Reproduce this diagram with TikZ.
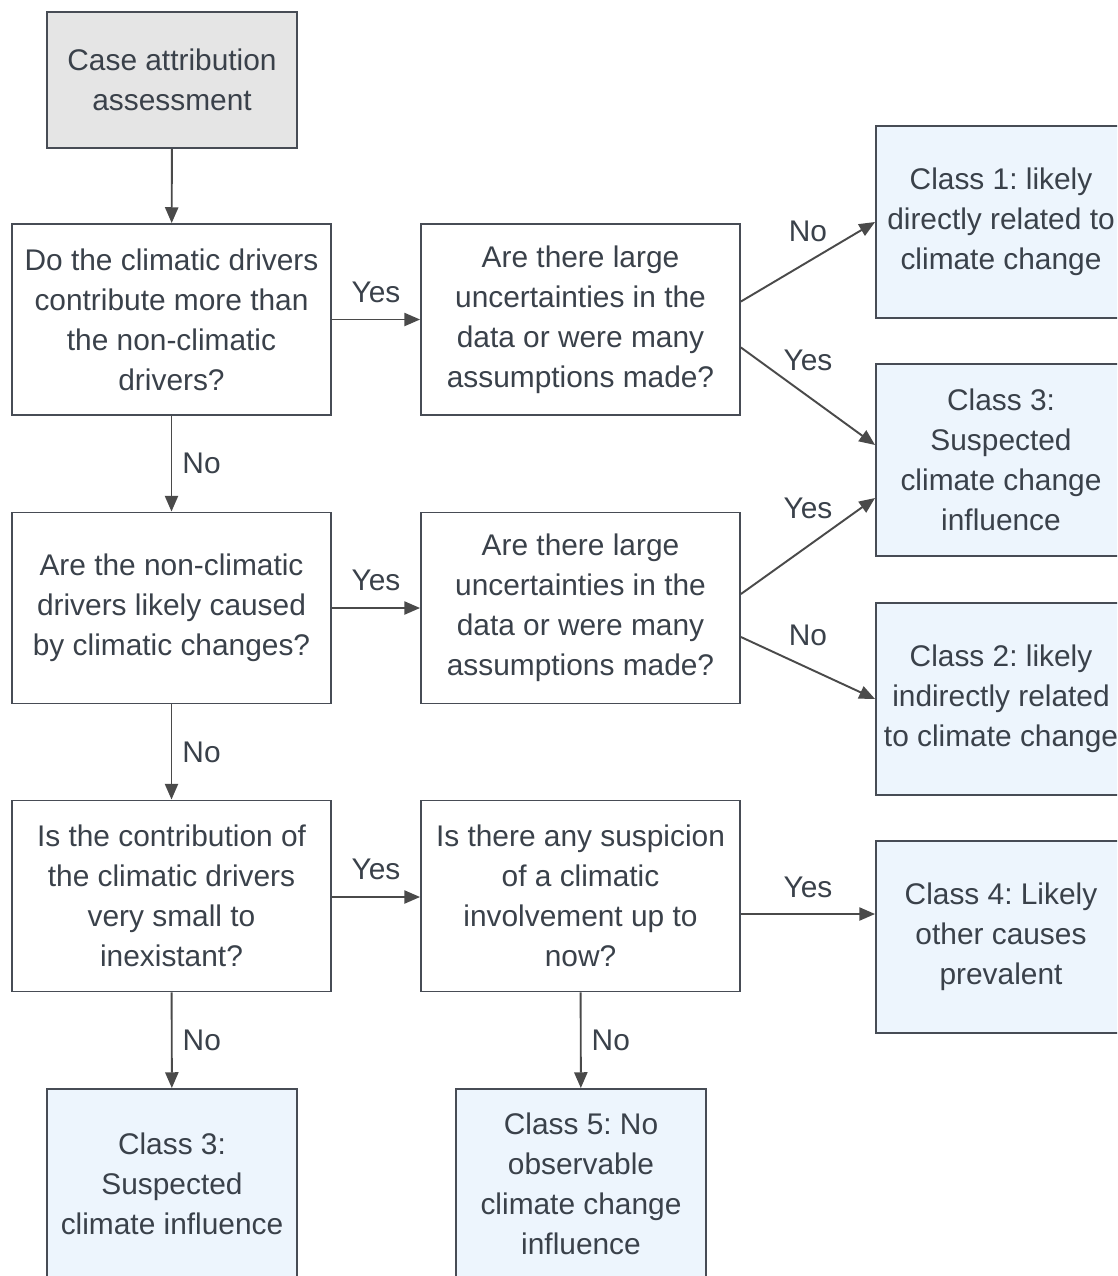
\documentclass[tikz,border=0pt]{standalone}
\usepackage{fontspec}
\setmainfont{Liberation Sans}
\usetikzlibrary{arrows.meta,calc}
\definecolor{ink}{HTML}{3A414A}
\definecolor{edge}{HTML}{474C55}
\definecolor{wire}{HTML}{4A4A4A}
\definecolor{paleblue}{HTML}{EDF5FD}
\definecolor{palegray}{HTML}{E5E5E5}
\frenchspacing

\begin{document}
\begin{tikzpicture}[x=0.02cm,y=-0.02cm,
        font=\fontsize{17}{22.8}\selectfont, text=ink,
        box/.style={draw=edge,line width=1.1pt,align=center,inner sep=0pt,
            minimum width=6.38cm,minimum height=3.82cm},
        cls/.style={box,fill=paleblue,minimum width=5cm,minimum height=3.84cm},
        arr/.style={draw=wire,line width=1.1pt,-{Triangle[length=9pt,width=7.5pt]}},
        lbl/.style={inner sep=0pt}]
        \useasboundingbox (0,0) rectangle (1117,1276);
        \clip (0,0) rectangle (1117,1276);

        \node[box,fill=palegray,minimum width=5cm,minimum height=2.72cm] (attr) at (172,80) {Case attribution\\assessment};
        \node[box] (drivers) at (171.5,319.5) {Do the climatic drivers\\contribute more than\\the non-climatic\\drivers?};
        \node[box] (unc1) at (580.5,319.5) {Are there large\\uncertainties in the\\data or were many\\assumptions made?};
        \node[cls] (class1) at (1001,222) {Class 1: likely\\directly related to\\climate change};
        \node[cls] (class3a) at (1001,460) {Class 3:\\Suspected\\climate change\\influence};
        \node[box] (nonclim) at (171.5,608) {Are the non-climatic\\drivers likely caused\\by climatic changes?};
        \node[box] (unc2) at (580.5,608) {Are there large\\uncertainties in the\\data or were many\\assumptions made?};
        \node[cls] (class2) at (1001,699) {Class 2: likely\\indirectly related\\to climate change};
        \node[box] (small) at (171.5,896) {Is the contribution of\\the climatic drivers\\very small to\\inexistant?};
        \node[box] (suspic) at (580.5,896) {Is there any suspicion\\of a climatic\\involvement up to\\now?};
        \node[cls] (class4) at (1001,937) {Class 4: Likely\\other causes\\prevalent};
        \node[cls,minimum height=3.8cm] (class3b) at (172,1184) {Class 3:\\Suspected\\climate influence};
        \node[cls,minimum height=3.8cm] (class5) at (581,1184) {Class 5: No\\observable\\climate change\\influence};

        % left column
        \draw[arr] (attr) -- (drivers);
        \draw[arr] (drivers) -- node[lbl,right=0.2cm] {No} (nonclim);
        \draw[arr] (nonclim) -- node[lbl,right=0.2cm] {No} (small);
        \draw[arr] (small) -- node[lbl,right=0.2cm] {No} (class3b);
        \draw[arr] (suspic) -- node[lbl,right=0.2cm] {No} (class5);

        % yes branches
        \draw[arr] (drivers) -- node[lbl,above=9pt] {Yes} (unc1);
        \draw[arr] (nonclim) -- node[lbl,above=9pt] {Yes} (unc2);
        \draw[arr] ($(small.east)+(0,1)$) -- node[lbl,above=9pt] {Yes} ($(suspic.west)+(0,1)$);

        % to the classes
        \draw[arr] ($(unc1.east)+(0,-18)$) -- node[lbl,above=11pt] {No} (class1.west);
        \draw[arr] ($(unc1.east)+(0,28)$) -- node[lbl,above=14pt] {Yes} ($(class3a.west)+(0,-15)$);
        \draw[arr] ($(unc2.east)+(0,-14)$) -- node[lbl,above=15pt] {Yes} ($(class3a.west)+(0,38)$);
        \draw[arr] ($(unc2.east)+(0,29)$) -- node[lbl,above=12pt] {No} (class2.west);
        \draw[arr] ($(suspic.east)+(0,18)$) -- node[lbl,above=8.5pt] {Yes} ($(class4.west)+(0,-23)$);
\end{tikzpicture}
\end{document}
